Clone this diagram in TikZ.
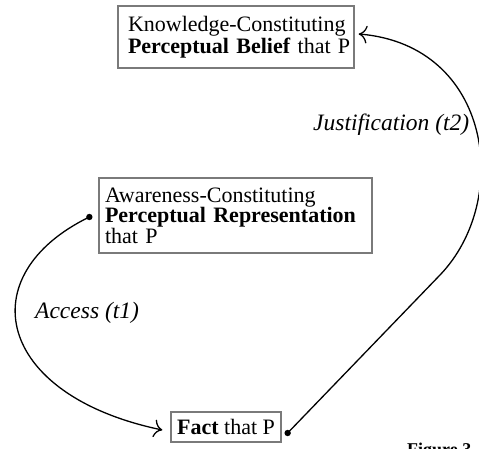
\documentclass[tikz,border=0pt]{standalone}
\usepackage{fontspec}
\setmainfont{Liberation Serif}
\usetikzlibrary{arrows.meta}
\definecolor{boxgray}{HTML}{7A7A7A}
\begin{document}
\begin{tikzpicture}[x=1pt,y=-1pt,
  box/.style={draw=boxgray,line width=1.3pt,align=left,
    font=\fontsize{22}{21.7}\selectfont,inner ysep=0pt},
  lab/.style={font=\fontsize{23.5}{24}\selectfont\itshape,inner sep=0pt},
  conn/.style={line width=1.3pt,-{To[scale=1.9]}},
  dotty/.style={fill=black}]
\useasboundingbox (0,0) rectangle (479,449);
\node[box,text width=216pt,inner xsep=10pt,minimum height=62pt] (belief) at (236,37)
  {\mbox{Knowledge-Constituting}\\\mbox{\textbf{Perceptual Belief} that P}};
\node[box,text width=261pt,inner xsep=6pt,minimum height=75pt,
  font=\fontsize{22}{20.5}\selectfont] (rep) at (235.5,215.5)
  {Awareness-Constituting\\\textbf{Perceptual Representation}\\that P};
\node[box,minimum width=110pt,minimum height=30pt,inner xsep=0pt] (fact) at (226,427)
  {\textbf{Fact} that P};
\node[lab,anchor=base west] (jlab) at (313,131) {Justification (t2)};
\node[lab,anchor=base west] (alab) at (35,318) {Access (t1)};
\node[font=\fontsize{18}{18}\selectfont\bfseries,anchor=base west,inner sep=0pt] (fig) at (407,455) {Figure 3};
\coordinate (a0) at ([xshift=-9pt,yshift=-1.5pt]rep.west);
\coordinate (a1) at ([xshift=-8pt,yshift=-3pt]fact.west);
\coordinate (j0) at ([xshift=6pt,yshift=-6pt]fact.east);
\coordinate (j1) at ([xshift=4pt,yshift=3pt]belief.east);
\draw[conn] (a0) .. controls (-30,275) and (-5,395) .. (a1);
\draw[conn] (j0) -- (440,275) .. controls (512,200) and (492,45) .. (j1);
\fill[dotty] (a0) circle (3.2pt);
\fill[dotty] (j0) circle (3.2pt);
\end{tikzpicture}
\end{document}
